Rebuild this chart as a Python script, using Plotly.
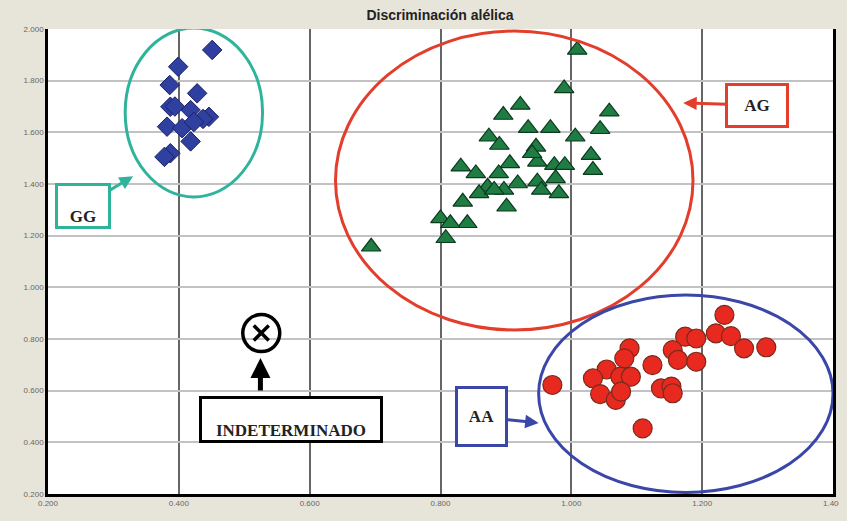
import plotly.graph_objects as go

# ---------------- data ----------------
gg_x = [0.451, 0.399, 0.386, 0.428, 0.387, 0.418, 0.446, 0.437, 0.382, 0.405, 0.423, 0.418, 0.387, 0.378, 0.394]
gg_y = [1.919, 1.854, 1.783, 1.751, 1.699, 1.686, 1.660, 1.652, 1.622, 1.616, 1.640, 1.565, 1.519, 1.505, 1.700]

ag_x = [1.009, 0.989, 1.058, 0.922, 0.896, 1.044, 0.968, 0.934, 0.874, 1.006,
        0.890, 0.946, 1.030, 0.831, 0.948, 0.854, 0.906, 0.889, 0.974, 0.990,
        1.033, 0.918, 0.872, 0.859, 0.897, 0.948, 0.976, 0.954, 0.981, 0.901,
        0.834, 0.841, 0.800, 0.815, 0.808, 0.882, 0.940, 0.694]
ag_y = [1.919, 1.770, 1.680, 1.706, 1.667, 1.612, 1.616, 1.616, 1.583, 1.583,
        1.551, 1.544, 1.512, 1.467, 1.486, 1.441, 1.480, 1.441, 1.473, 1.473,
        1.454, 1.402, 1.389, 1.364, 1.377, 1.409, 1.422, 1.377, 1.364, 1.312,
        1.331, 1.248, 1.267, 1.248, 1.190, 1.377, 1.519, 1.157]

aa_x = [1.234, 1.221, 1.244, 1.264, 1.298, 1.174, 1.191, 1.155, 1.163, 1.191,
        1.124, 1.089, 1.081, 1.054, 1.075, 1.091, 1.033, 1.044, 1.068, 1.076,
        1.137, 1.153, 1.155, 0.971, 1.109]
aa_y = [0.893, 0.822, 0.811, 0.764, 0.768, 0.809, 0.802, 0.757, 0.719, 0.712,
        0.699, 0.764, 0.725, 0.682, 0.654, 0.654, 0.648, 0.587, 0.564, 0.596,
        0.609, 0.616, 0.590, 0.622, 0.454]

ind_x = [0.526]
ind_y = [0.823]

x_ticks = [0.2, 0.4, 0.6, 0.8, 1.0, 1.2, 1.4]
x_tick_labels = ["0.200", "0.400", "0.600", "0.800", "1.000", "1.200", "1.400"]
y_ticks = [0.2, 0.4, 0.6, 0.8, 1.0, 1.2, 1.4, 1.6, 1.8, 2.0]
y_tick_labels = ["0.200", "0.400", "0.600", "0.800", "1.000", "1.200", "1.400", "1.600", "1.800", "2.000"]

# ---------------- figure ----------------
fig = go.Figure()

fig.add_trace(go.Scatter(
    x=gg_x, y=gg_y, mode="markers", name="GG",
    marker=dict(symbol="diamond", size=15, color="#2f40a0",
                line=dict(color="#1a2266", width=1))))
fig.add_trace(go.Scatter(
    x=ag_x, y=ag_y, mode="markers", name="AG",
    marker=dict(symbol="triangle-up", size=17, color="#1f7d44",
                line=dict(color="#0c3a1e", width=1.2))))
fig.add_trace(go.Scatter(
    x=aa_x, y=aa_y, mode="markers", name="AA",
    marker=dict(symbol="circle", size=19, color="#e8291f",
                line=dict(color="#7a2b1c", width=1.2))))
fig.add_trace(go.Scatter(
    x=ind_x, y=ind_y, mode="markers", name="Indeterminado",
    marker=dict(symbol="circle-open", size=37, color="black",
                line=dict(color="black", width=3.5))))
fig.add_trace(go.Scatter(
    x=ind_x, y=ind_y, mode="markers", name="Indeterminado",
    marker=dict(symbol="x-thin-open", size=15, color="black",
                line=dict(color="black", width=3.5))))

# cluster ellipses
fig.add_shape(type="circle", xref="x", yref="y", x0=0.318, x1=0.528, y0=1.350, y1=2.004,
              line=dict(color="#30b39b", width=3), layer="above")
fig.add_shape(type="circle", xref="x", yref="y", x0=0.6395, x1=1.186, y0=0.835, y1=1.992,
              line=dict(color="#e33d2c", width=3), layer="above")
fig.add_shape(type="circle", xref="x", yref="y", x0=0.950, x1=1.400, y0=0.206, y1=0.970,
              line=dict(color="#3a47a8", width=3), layer="above")

label_font = dict(family="Liberation Serif", size=17, color="#222222")

# GG label
fig.add_annotation(x=0.330, y=1.430, xref="x", yref="y", text="<b>GG</b>",
                   showarrow=True, ax=-50, ay=30,
                   arrowhead=2, arrowsize=0.9, arrowwidth=3, arrowcolor="#30b39b",
                   bordercolor="#30b39b", borderwidth=3, borderpad=0, bgcolor="white",
                   width=50, height=40, valign="bottom", font=label_font)
# AG label
fig.add_annotation(x=1.171, y=1.7135, xref="x", yref="y", text="<b>AG</b>",
                   showarrow=True, ax=74, ay=2,
                   arrowhead=2, arrowsize=0.9, arrowwidth=3, arrowcolor="#e33d2c",
                   bordercolor="#e33d2c", borderwidth=3, borderpad=0, bgcolor="white",
                   width=58, height=39, valign="middle", font=label_font)
# AA label
fig.add_annotation(x=0.950, y=0.475, xref="x", yref="y", text="<b>AA</b>",
                   showarrow=True, ax=-57, ay=-6,
                   arrowhead=2, arrowsize=0.9, arrowwidth=3, arrowcolor="#3a47a8",
                   bordercolor="#3a47a8", borderwidth=3, borderpad=0, bgcolor="white",
                   width=47, height=55, valign="middle", font=label_font)
# INDETERMINADO
fig.add_annotation(x=0.5247, y=0.726, xref="x", yref="y", text="",
                   showarrow=True, ax=0, ay=34,
                   arrowhead=2, arrowsize=0.8, arrowwidth=5, arrowcolor="black")
fig.add_annotation(x=0.572, y=0.490, xref="x", yref="y", text="<b>INDETERMINADO</b>",
                   showarrow=False,
                   bordercolor="black", borderwidth=3, borderpad=0, bgcolor="white",
                   width=178, height=41, valign="bottom", font=label_font)

fig.update_layout(
    width=847, height=521,
    margin=dict(l=40, r=22, t=21, b=35),
    paper_bgcolor="#e7e5d9",
    plot_bgcolor="white",
    showlegend=False,
    title=dict(text="<b>Discriminación alélica</b>", x=432 / 847, xanchor="center",
               y=1 - 7 / 521, yanchor="middle",
               font=dict(family="Liberation Sans", size=14, color="#222222")),
    xaxis=dict(range=[0.2, 1.4], tickvals=x_ticks, ticktext=x_tick_labels,
               showgrid=True, gridcolor="#666666", gridwidth=1.6, zeroline=False,
               showline=True, linecolor="black", linewidth=2.5, ticks="",
               tickfont=dict(family="Liberation Sans", size=8, color="#666666")),
    yaxis=dict(range=[0.2, 2.0], tickvals=y_ticks, ticktext=y_tick_labels,
               showgrid=True, gridcolor="#c2c2c2", gridwidth=1.5, zeroline=False,
               showline=True, linecolor="black", linewidth=2.5, mirror=True, ticks="",
               tickfont=dict(family="Liberation Sans", size=8, color="#666666")),
)

fig.write_html("out.html", post_script="document.body.style.background='#e7e5d9';")
